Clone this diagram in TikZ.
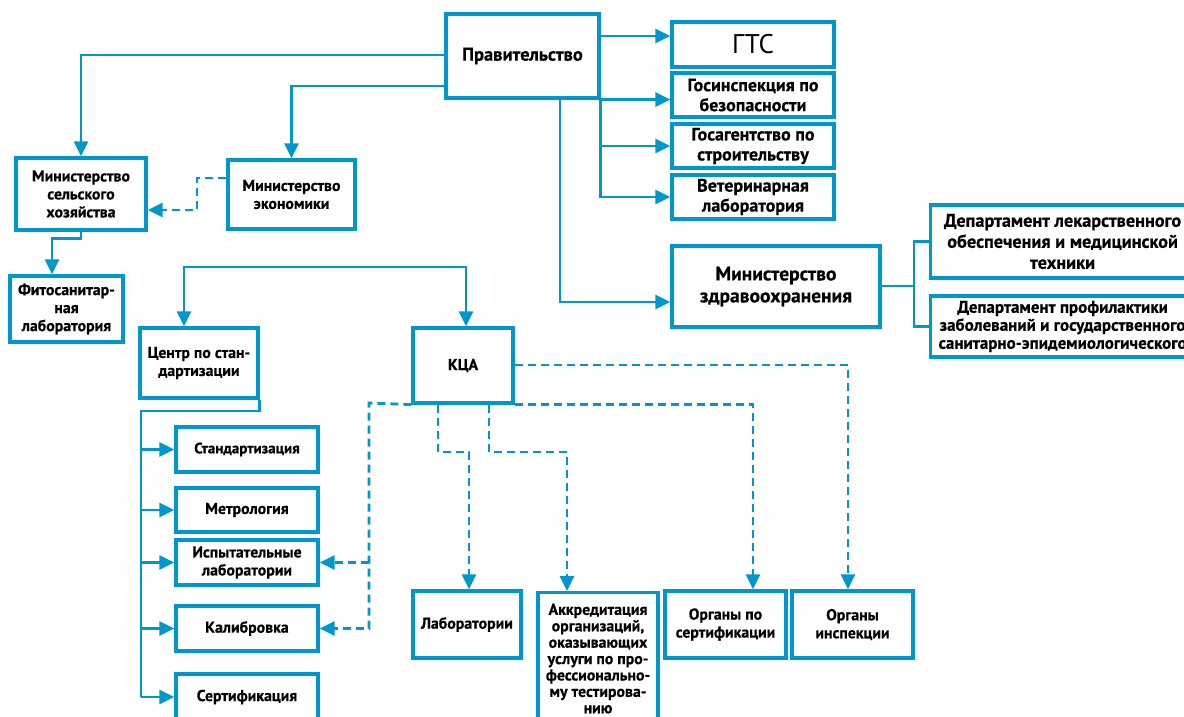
\documentclass[tikz,border=0pt]{standalone}
\usepackage{fontspec}
\setmainfont{PT Sans}[BoldFeatures={FakeBold=0.5}]
\usetikzlibrary{arrows.meta}
\definecolor{bl}{RGB}{0,151,204}
\tikzset{
  box/.style={draw=bl, line width=3.2pt, fill=white, align=center, inner sep=2pt,
    font=\bfseries\fontsize{15.8}{18}\selectfont},
  big/.style={font=\bfseries\fontsize{18}{20}\selectfont},
  line/.style={draw=bl, line width=2.8pt},
  arr/.style={line, -{Triangle[length=15pt,width=14pt]}},
  dline/.style={line, dash pattern=on 8pt off 5pt},
  darr/.style={dline, -{Triangle[length=15pt,width=14pt]}},
}
\begin{document}
\begin{tikzpicture}[x=1pt,y=-1pt]
\useasboundingbox (0,0) rectangle (1184,716);
\clip (0,0) rectangle (1184,716);
% nodes
\node[box, minimum width=153pt, minimum height=84pt, font=\bfseries\fontsize{18.5}{20}\selectfont] (prav) at (522.5,56) {Правительство};
\node[box, minimum width=162pt, minimum height=45pt, font=\fontsize{27}{30}\selectfont] (gts) at (753,44.5) {ГТС};
\node[box, big, minimum width=162pt, minimum height=44pt] (gos) at (753,95) {Госинспекция по\\безопасности};
\node[box, big, minimum width=162pt, minimum height=44pt] (agent) at (753,146) {Госагентство по\\строительству};
\node[box, big, minimum width=162pt, minimum height=44pt] (vet) at (753,197) {Ветеринарная\\лаборатория};
\node[box, minimum width=208pt, minimum height=81pt, font=\bfseries\fontsize{19.5}{22}\selectfont] (minzdr) at (776,286.5) {Министерство\\здравоохранения};
\node[box, minimum width=264pt, minimum height=73pt, anchor=west, font=\bfseries\fontsize{18.3}{21}\selectfont] (dep1) at (929,241.5) {Департамент лекарственного\\обеспечения и медицинской\\техники};
\node[box, minimum width=264pt, minimum height=61pt, anchor=west, font=\bfseries\fontsize{17}{18}\selectfont] (dep2) at (929,326.5) {Департамент профилактики\\заболеваний и государственного\\санитарно-эпидемиологического};
\node[box, minimum width=130pt, minimum height=72pt] (minsel) at (81,194) {Министерство\\сельского\\хозяйства};
\node[box, minimum width=127pt, minimum height=69pt] (mineco) at (291.5,194.5) {Министерство\\экономики};
\node[box, minimum width=113pt, minimum height=66pt] (fito) at (66.5,309) {Фитосанитар-\\ная\\лаборатория};
\node[box, minimum width=118pt, minimum height=70pt] (centr) at (199,363) {Центр по стан-\\дартизации};
\node[box, minimum width=100pt, minimum height=75pt] (kca) at (463,365.5) {КЦА};
\node[box, minimum width=142pt, minimum height=45pt, font=\bfseries\fontsize{15}{18}\selectfont] (stand) at (247,449.5) {Стандартизация};
\node[box, minimum width=142pt, minimum height=44pt] (metr) at (247,510) {Метрология};
\node[box, minimum width=142pt, minimum height=45pt] (isp) at (247,562.5) {Испытательные\\лаборатории};
\node[box, minimum width=142pt, minimum height=45pt] (kalib) at (247,628.5) {Калибровка};
\node[box, minimum width=142pt, minimum height=46pt] (sert) at (247,697) {Сертификация};
\node[box, minimum width=108pt, minimum height=67pt] (lab) at (467,624.5) {Лаборатории};
\node[box, minimum width=120pt, minimum height=132pt, anchor=north, font=\bfseries\fontsize{15.8}{16.4}\selectfont] (akkr) at (598,591) {Аккредитация\\организаций,\\оказывающих\\услуги по про-\\фессионально-\\му тестирова-\\нию};
\node[box, minimum width=121pt, minimum height=67pt] (orgsert) at (725.5,624.5) {Органы по\\сертификации};
\node[box, minimum width=121pt, minimum height=67pt] (orginsp) at (852.5,624.5) {Органы\\инспекции};
% coordinates
\coordinate (br) at (914,286);
\coordinate (trunk) at (141,411);
\coordinate (dl) at (369,403);
% connectors from Правительство
\draw[arr] (prav.east |- 0,36) -- (gts.west |- 0,36);
\draw[arr] (prav.south east) -- (gos.west |- prav.south east);
\draw[arr] (prav.south east) |- (agent.west);
\draw[arr] (prav.south east) |- (vet.west);
\draw[arr] (prav.south -| 560,0) |- (minzdr.west |- 0,302);
\draw[line] (minzdr.east |- br) -- (br);
\draw[line] (dep1.west) -| (br) |- (dep2.west);
\draw[arr] (prav.west |- 0,55) -| (minsel.north);
\draw[arr] (prav.west |- 0,86) -| (mineco.north);
\draw[darr] (mineco.west |- 0,178) -| (197,210) -- (minsel.east |- 0,210);
\draw[arr] (minsel.south) -- ++(0,7) -| (fito.north -| 52,0);
% bracket to Центр and КЦА
\draw[{Triangle[length=15pt,width=14pt]}-{Triangle[length=15pt,width=14pt]}, line]
  (centr.north -| 184,0) -- (184,267) -- (466,267) -- (kca.north -| 466,0);
% Центр trunk
\draw[line] (centr.south east) -- (centr.south east |- trunk) -- (trunk) -- (trunk |- sert.west);
\draw[arr] (trunk |- stand.west) -- (stand.west);
\draw[arr] (trunk |- metr.west) -- (metr.west);
\draw[arr] (trunk |- isp.west) -- (isp.west);
\draw[arr] (trunk |- kalib.west) -- (kalib.west);
\draw[arr] (trunk |- sert.west) -- (sert.west);
% КЦА dashed
\draw[darr] (kca.east |- 0,365) -| (orginsp.north -| 848,0);
\draw[darr] (kca.south east) -| (orgsert.north -| 753,0);
\draw[darr] (kca.south west) -- (dl) |- (kalib.east);
\draw[darr] (dl |- isp.east) -- (isp.east);
\draw[darr] (kca.south -| 438,0) -- (438,452) -| (lab.north -| 469,0);
\draw[darr] (kca.south -| 489,0) -- (489,452) -| (akkr.north -| 567,0);
\end{tikzpicture}
\end{document}
